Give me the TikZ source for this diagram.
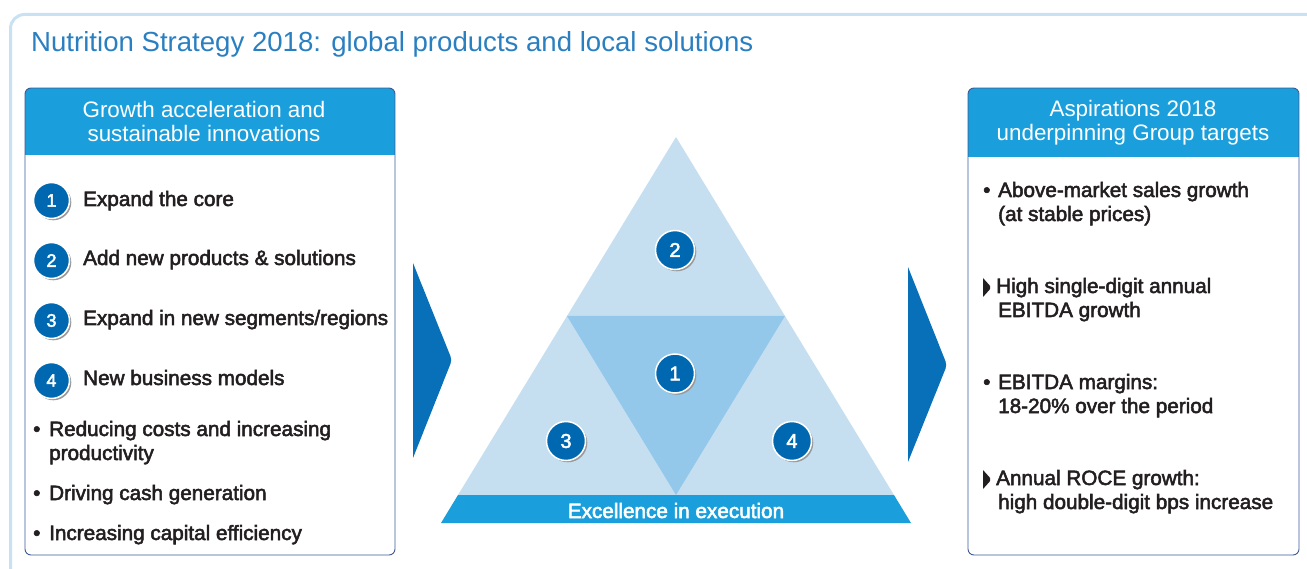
\documentclass[tikz,border=0pt]{standalone}
\usepackage{fontspec}
\setmainfont{Liberation Sans}
\newfontfamily\medfont{Liberation Sans}[FakeBold=2.5]
\usetikzlibrary{shadows}
\definecolor{frameblue}{HTML}{C9E2F3}
\definecolor{titleblue}{HTML}{2A7FC1}
\definecolor{hdrblue}{HTML}{1A9FDC}
\definecolor{boxline}{HTML}{3A5A95}
\definecolor{circblue}{HTML}{0068B0}
\definecolor{chevblue}{HTML}{0770B8}
\definecolor{trilight}{HTML}{C5DFF1}
\definecolor{trimid}{HTML}{93C8EA}
\definecolor{textdark}{HTML}{231F20}
\begin{document}
\begin{tikzpicture}[x=1pt,y=-1pt,
  numcirc/.style={circle, fill=circblue, draw=white, line width=1.5pt, minimum size=36pt, inner sep=0pt, text=white,
    font=\medfont\fontsize{18}{18}\selectfont,
    drop shadow={shadow xshift=1.8pt, shadow yshift=-1.8pt, fill=black!40, opacity=1}},
  bignum/.style={numcirc, minimum size=39pt, font=\medfont\fontsize{20}{20}\selectfont},
  item/.style={anchor=base west, inner sep=0pt, text=textdark, font=\medfont\fontsize{20.7}{24}\selectfont, align=left},
  bul/.style={anchor=base west, inner sep=0pt, text=textdark, font=\medfont\fontsize{20.7}{24}\selectfont},
  hdrtext/.style={anchor=center, inner sep=0pt, text=white, font=\fontsize{22.4}{24}\selectfont, align=center},
  boxframe/.style={draw=boxline, line width=0.9pt, rounded corners=6},
  chevron/.style={fill=chevblue},
  marker/.style={fill=textdark}
]
\useasboundingbox (0,0) rectangle (1307,569);
% outer frame
\draw[frameblue, line width=3pt, rounded corners=14] (10.5,590) -- (10.5,14.5) -- (1330,14.5);
% title
\node[anchor=base west, inner sep=0pt, text=titleblue, font=\fontsize{27.6}{30}\selectfont] (title) at (31,52)
  {Nutrition Strategy 2018: global products and local solutions};

% left box
\begin{scope}
  \clip[rounded corners=6] (25,88) rectangle (395,555);
  \fill[hdrblue] (25,88) rectangle (395,155);
\end{scope}
\draw[boxframe] (25,88) rectangle (395,555);
\node[hdrtext] (lhead) at (204,121.5) {Growth acceleration and\\sustainable innovations};

\node[numcirc] (l1) at (51.5,200.5) {1};
\node[numcirc] (l2) at (51.5,260.5) {2};
\node[numcirc] (l3) at (51.5,320.5) {3};
\node[numcirc] (l4) at (51.5,380.5) {4};
\node[item] (li1) at (83,206) {Expand the core};
\node[item] (li2) at (83,265) {Add new products \& solutions};
\node[item] (li3) at (83,325) {Expand in new segments/regions};
\node[item] (li4) at (83,385) {New business models};
\node[bul] (lb1) at (33,436) {•};
\node[item] (lt1) at (49,460) {Reducing costs and increasing\\productivity};
\node[bul] (lb2) at (33,500) {•};
\node[item] (lt2) at (49,500) {Driving cash generation};
\node[bul] (lb3) at (33,540) {•};
\node[item] (lt3) at (49,540) {Increasing capital efficiency};

% chevrons
\fill[chevron] (413,263) [rounded corners=4] -- (452,360) [sharp corners] -- (413,458) -- cycle;
\fill[chevron] (908,267) [rounded corners=4] -- (947,365) [sharp corners] -- (908,462) -- cycle;

% triangle
\fill[trilight] (676,137) -- (894,495) -- (458,495) -- cycle;
\fill[trimid] (567,316) -- (785,316) -- (676,495) -- cycle;
\fill[hdrblue] (458,495) -- (894,495) -- (911,523) -- (441,523) -- cycle;
\node[anchor=base, inner sep=0pt, text=white, font=\medfont\fontsize{20.7}{24}\selectfont] (exc) at (676,518) {Excellence in execution};
\node[bignum] (t2) at (675,250) {2};
\node[bignum] (t1) at (675,373.5) {1};
\node[bignum] (t3) at (566,441) {3};
\node[bignum] (t4) at (792,441) {4};

% right box
\begin{scope}
  \clip[rounded corners=6] (968,88) rectangle (1299,555);
  \fill[hdrblue] (968,88) rectangle (1299,157);
\end{scope}
\draw[boxframe] (968,88) rectangle (1299,555);
\node[hdrtext] (rhead) at (1133,123) {Aspirations 2018\\underpinning Group targets};

\node[bul] (rb1) at (983,197) {•};
\node[item] (rt1) at (998,221) {Above-market sales growth\\(at stable prices)};
\fill[marker] (983,278) [rounded corners=2] -- (991.5,287.5) [sharp corners] -- (983,297) -- cycle;
\node[item] (rt2) at (996,317) {High single-digit annual\\\hspace{2pt}EBITDA growth};
\node[bul] (rb3) at (983,389) {•};
\node[item] (rt3) at (998,413) {EBITDA margins:\\18-20\% over the period};
\fill[marker] (983,470) [rounded corners=2] -- (991.5,479.5) [sharp corners] -- (983,489) -- cycle;
\node[item] (rt4) at (996,509) {Annual ROCE growth:\\\hspace{2pt}high double-digit bps increase};
\end{tikzpicture}
\end{document}
